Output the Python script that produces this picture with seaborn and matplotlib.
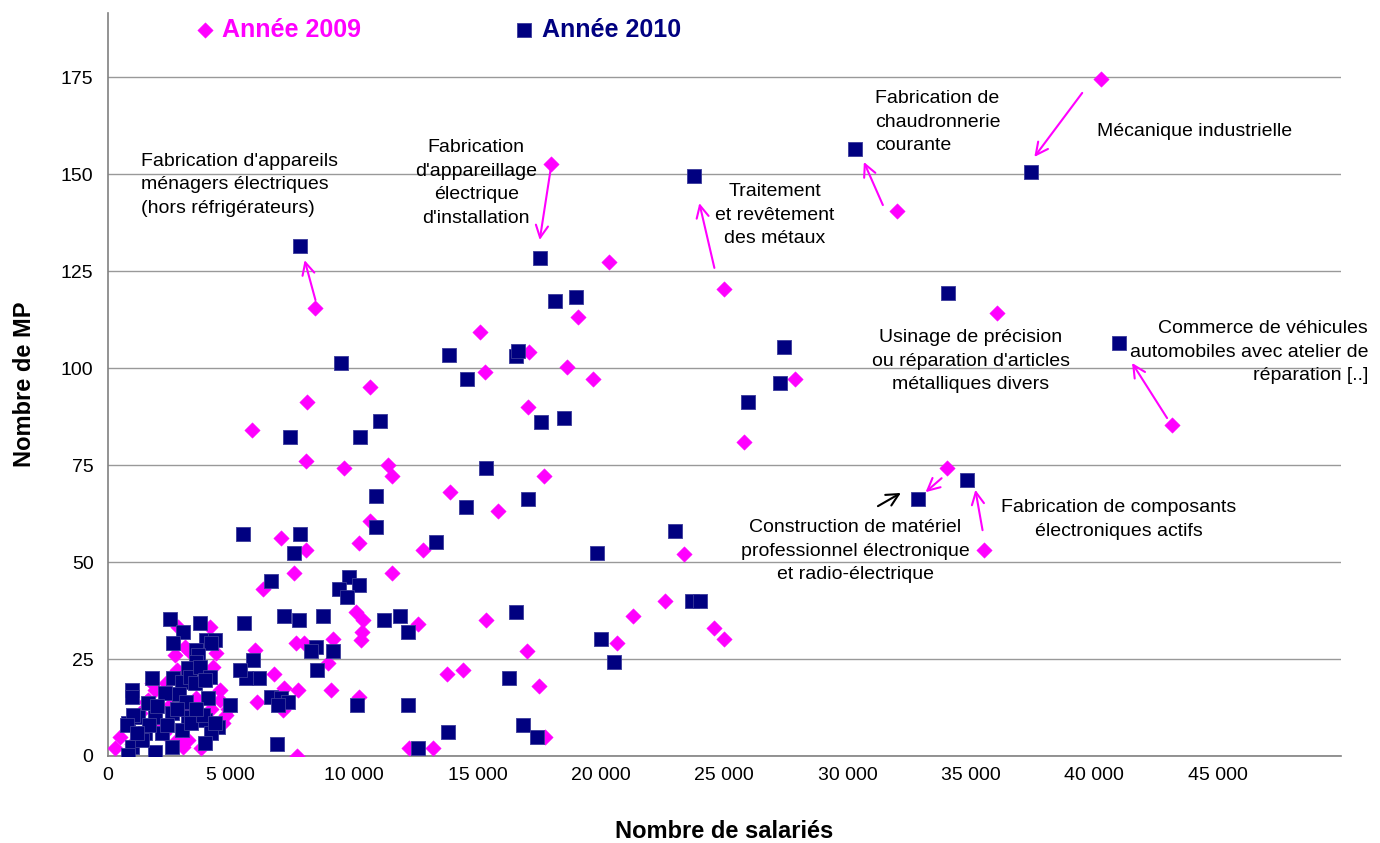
import numpy as np
import pandas as pd
import seaborn as sns
import matplotlib.pyplot as plt
from matplotlib.ticker import FuncFormatter

# --- data (x = nombre de salariés, y = nombre de MP) ---
x_2009 = [40280, 32000, 17970, 8430, 25000, 20310, 36070, 43150, 27870, 25810,
          34010, 35540, 19070, 15080, 17080, 15300, 18630, 19660, 10650, 17050,
          17700, 13870, 15810, 12790, 23360, 8080, 5840, 8040, 9590, 11380,
          11540, 10650, 7040, 8040, 7550, 6310, 10180, 11550, 15330, 10070,
          10340, 10310, 10270, 12600, 9130, 7980, 7650, 8950, 13750, 14420,
          6730, 7710, 7170, 9060, 6060, 7110, 10210, 7690, 12230, 13210,
          17020, 17510, 17750, 20650, 21290, 22600, 24580, 25000, 5960,
          300, 500, 1250, 1310, 1580, 1790, 1920, 2390, 2800, 2730,
          2860, 3130, 3300, 4140, 4410, 4270, 4550, 4550, 4820, 4680,
          3000, 3270, 2930, 2800, 3060, 3400, 1650, 2000, 2300, 3600,
          3900, 4200, 1000, 2500, 3800, 4900]
y_2009 = [174.5, 140.5, 152.6, 115.5, 120.4, 127.3, 114.2, 85.3, 97.2, 80.9,
          74.2, 53.1, 113.2, 109.2, 104.2, 99.0, 100.2, 97.2, 95.2, 90.0,
          72.2, 68.1, 63.2, 53.1, 52.1, 91.2, 84.0, 76.1, 74.1, 75.0,
          72.2, 60.6, 56.1, 53.1, 47.1, 43.0, 55.0, 47.1, 35.1, 37.0,
          35.1, 32.0, 29.9, 34.0, 30.2, 29.2, 29.0, 23.9, 21.1, 22.2,
          21.1, 17.0, 17.4, 17.0, 14.0, 11.9, 15.3, 0.0, 2.0, 2.0,
          27.1, 18.1, 5.0, 29.0, 36.1, 40.0, 33.1, 30.1, 27.3,
          2, 5, 4.1, 11, 14, 18.7, 17, 18.7, 22.2, 26,
          33.3, 28.2, 27, 33.3, 26.5, 23, 17, 14.4, 10.6, 8.4,
          11.9, 4.1, 3.3, 4.1, 2.4, 19.6, 14.4, 8, 6, 15,
          10, 12, 3, 13, 2, 12]

x_2010 = [37450, 30290, 23780, 34050, 41010, 27430, 27270, 25950, 32840, 34820,
          7820, 17550, 18130, 19000, 13840, 16550, 16620, 9470, 14580, 17590,
          18490, 11060, 10250, 7390, 15330, 14540, 17050, 13330, 19830, 22990,
          10890, 10890, 5480, 7790, 7580, 6640, 9770, 9370, 10200, 9710,
          7170, 7750, 8750, 11220, 11870, 12190, 8460, 8250, 9160, 8500,
          5890, 6160, 5630, 5360, 5540, 6640, 7040, 7310, 6900, 10110,
          12200, 13790, 6880, 12600, 16540, 16270, 16840, 17410, 20000, 20550,
          23700, 24000, 4950,
          2530, 3740, 3060, 2660, 4010, 4350, 4210, 3600, 3670, 3600,
          3270, 1790, 980, 980, 2660, 3000, 3330, 3740, 4140, 3540,
          3940, 4070, 2320, 1650, 840, 1250, 1920, 2600, 3270, 3940,
          4480, 4210, 3940, 980, 840, 1920, 2600, 1520, 2190, 3000,
          3400, 1380, 3870, 4350, 1040, 780, 2000, 2900, 3200, 2800,
          1700, 2400, 3600, 1200]
y_2010 = [150.5, 156.4, 149.5, 119.3, 106.4, 105.3, 96.1, 91.2, 66.2, 71.1,
          131.4, 128.3, 117.3, 118.3, 103.3, 103.2, 104.3, 101.4, 97.2, 86.2,
          87.2, 86.3, 82.1, 82.1, 74.1, 64.1, 66.2, 55.1, 52.3, 58.1,
          67.0, 59.0, 57.2, 57.2, 52.2, 45.2, 46.1, 43.0, 44.1, 41.1,
          36.2, 35.1, 36.2, 35.1, 36.2, 32.0, 28.0, 27.1, 27.1, 22.2,
          24.7, 20.0, 20.0, 22.2, 34.3, 15.3, 14.9, 14.0, 13.1, 13.1,
          13.1, 6.1, 3.0, 2.0, 37.0, 20.1, 8.1, 5.0, 30.2, 24.1,
          40.0, 40.0, 13.1,
          35.2, 34.2, 32.0, 29.2, 29.9, 29.9, 29.0, 27.3, 26.0, 24.3,
          22.6, 20.0, 17.0, 15.3, 20.0, 19.2, 20.4, 23.0, 20.4, 18.7,
          19.6, 14.9, 16.2, 13.6, 8.4, 10.1, 10.1, 11.0, 10.1, 9.3,
          7.6, 5.8, 3.3, 2.4, 0.3, 1.1, 2.4, 5.8, 5.8, 6.7,
          8.4, 4.1, 10.6, 8.4, 10.6, 8.0, 13.0, 16.0, 14.0, 12.0,
          8.0, 8.0, 12.0, 6.0]

x_ticks = [0, 5000, 10000, 15000, 20000, 25000, 30000, 35000, 40000, 45000]
y_ticks = [0, 25, 50, 75, 100, 125, 150, 175]

# annotations: (text, text pos, ha, arrow tail, arrow head, arrow colour)
notes = [
    ("Fabrication d'appareils\nménagers électriques\n(hors réfrigérateurs)",
     (1360, 147.2), "left", (8430, 117.5), (7990, 127.8), "#FF00FF"),
    ("Fabrication\nd'appareillage\nélectrique\nd'installation",
     (14950, 147.7), "center", (17970, 151.5), (17520, 133.0), "#FF00FF"),
    ("Traitement\net revêtement\ndes métaux",
     (27060, 139.4), "center", (24600, 125.8), (23990, 142.5), "#FF00FF"),
    ("Fabrication de\nchaudronnerie\ncourante",
     (31100, 163.4), "left", (31430, 142.0), (30660, 153.1), "#FF00FF"),
    ("Mécanique industrielle",
     (40120, 161.0), "left", (39510, 170.9), (37570, 154.4), "#FF00FF"),
    ("Usinage de précision\nou réparation d'articles\nmétalliques divers",
     (34990, 101.8), "center", None, None, None),
    ("Commerce de véhicules\nautomobiles avec atelier de\nréparation [..]",
     (51100, 104.1), "right", (42950, 87.1), (41530, 101.3), "#FF00FF"),
    ("Construction de matériel\nprofessionnel électronique\net radio-électrique",
     (30300, 52.8), "center", (31230, 64.4), (32160, 67.8), "black"),
    ("Fabrication de composants\nélectroniques actifs",
     (41000, 61.0), "center", (35470, 58.2), (35180, 68.6), "#FF00FF"),
]
extra_arrows = [((33810, 71.6), (33160, 68.0), "#FF00FF")]

df09 = pd.DataFrame({"salaries": x_2009, "mp": y_2009})
df10 = pd.DataFrame({"salaries": x_2010, "mp": y_2010})

sns.set_style("white")
plt.rcParams["font.family"] = ["Liberation Sans", "DejaVu Sans"]

fig = plt.figure(figsize=(13.8, 8.43), dpi=100)
ax = fig.add_axes([107.5 / 1380, 1 - 756 / 843, (1341 - 107.5) / 1380, (756 - 13) / 843])

sns.scatterplot(data=df09, x="salaries", y="mp", marker="D", s=62, color="#FF00FF",
                edgecolor="#FF00FF", linewidth=0.3, ax=ax, label="Année 2009", zorder=3)
sns.scatterplot(data=df10, x="salaries", y="mp", marker="s", s=100, color="#000080",
                edgecolor="#3a3a9a", linewidth=0.6, ax=ax, label="Année 2010", zorder=4)

ax.set_xlim(0, 50000)
ax.set_ylim(0, 191.5)
ax.set_xticks(x_ticks)
ax.set_yticks(y_ticks)
ax.xaxis.set_major_formatter(FuncFormatter(lambda v, p: f"{int(v):,}".replace(",", " ")))
ax.tick_params(axis="both", direction="out", length=5, width=1, color="#808080",
               labelsize=14, labelcolor="black")
ax.tick_params(axis="x", pad=3)
ax.tick_params(axis="y", pad=5)
ax.yaxis.grid(True, color="#999999", linewidth=1)
ax.xaxis.grid(False)
for side in ["top", "right"]:
    ax.spines[side].set_visible(False)
for side in ["left", "bottom"]:
    ax.spines[side].set_color("#808080")
    ax.spines[side].set_linewidth(1.2)

ax.set_xlabel("Nombre de salariés", fontsize=17, fontweight="bold", labelpad=26,
              color="black")
ax.set_ylabel("Nombre de MP", fontsize=17, fontweight="bold", labelpad=18,
              color="black")

for text, pos, ha, tail, head, col in notes:
    ax.text(pos[0], pos[1], text, ha=ha, va="center", fontsize=14, color="black",
            multialignment=ha, linespacing=1.5, zorder=5)
    if tail is not None:
        ax.annotate("", xy=head, xytext=tail,
                    arrowprops=dict(arrowstyle="->", color=col, lw=1.5,
                                    mutation_scale=22, shrinkA=0, shrinkB=0), zorder=5)
for tail, head, col in extra_arrows:
    ax.annotate("", xy=head, xytext=tail,
                arrowprops=dict(arrowstyle="->", color=col, lw=1.5,
                                mutation_scale=22, shrinkA=0, shrinkB=0), zorder=5)

leg = ax.legend(loc="center left", bbox_to_anchor=(195 / 1380, 1 - 30 / 843),
                bbox_transform=fig.transFigure, ncol=2, frameon=False,
                prop={"weight": "bold", "size": 18}, handlelength=0.8,
                handletextpad=0.3, columnspacing=6.1, borderpad=0, borderaxespad=0,
                markerscale=1.0)
for t, c in zip(leg.get_texts(), ["#FF00FF", "#000080"]):
    t.set_color(c)

fig.savefig("out.png", dpi=100)
